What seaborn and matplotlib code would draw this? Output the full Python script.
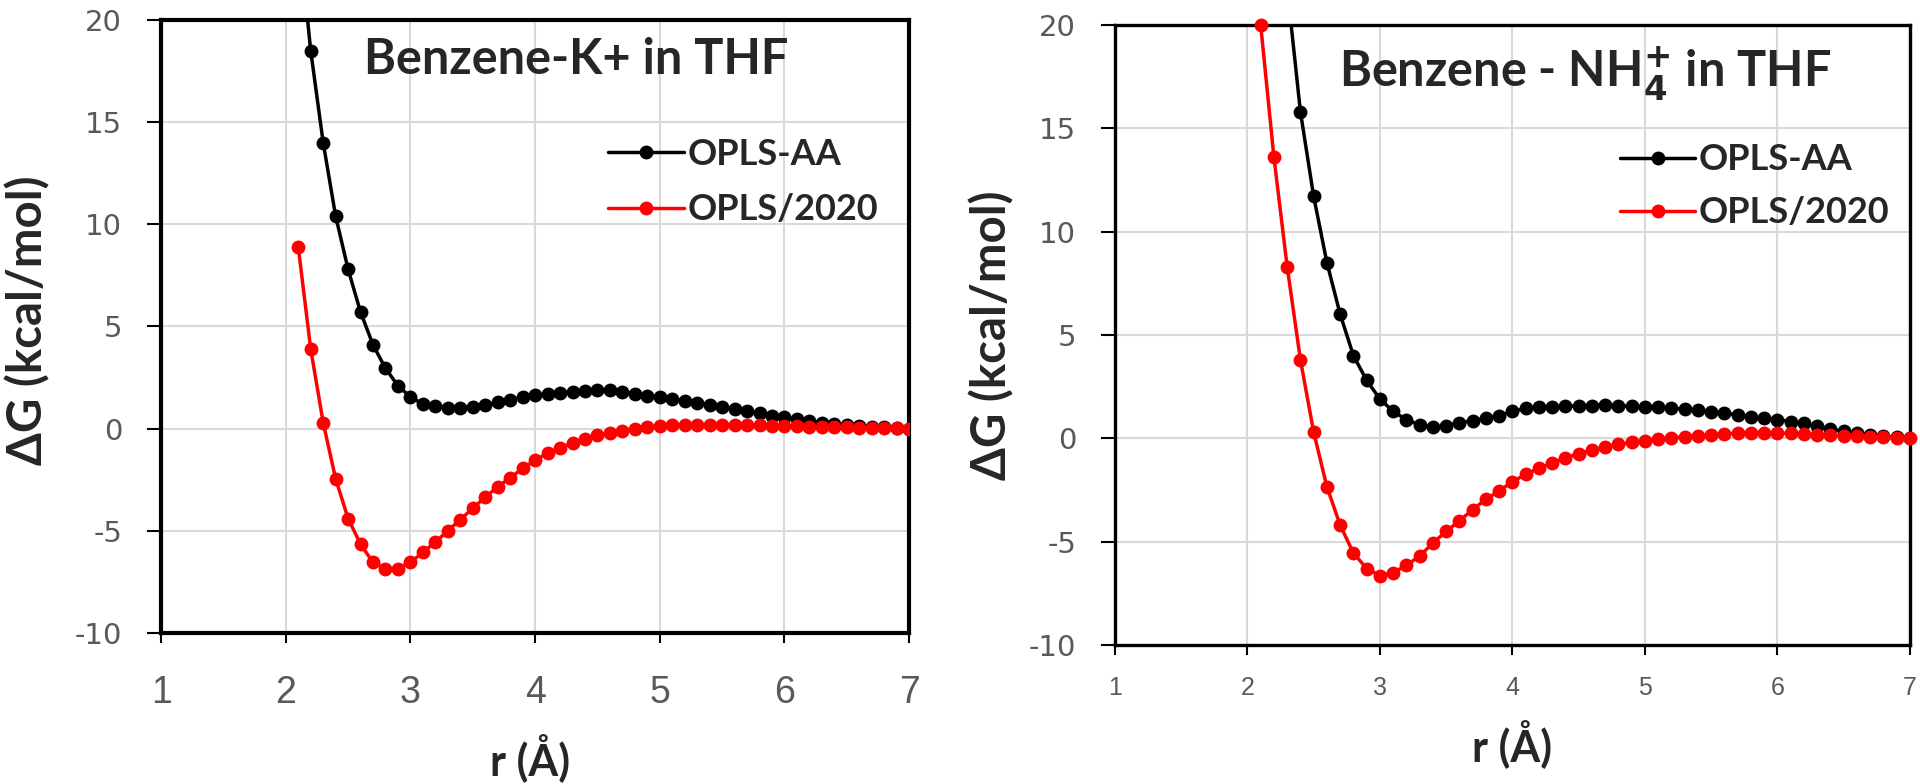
import matplotlib
matplotlib.use('Agg')
import matplotlib.pyplot as plt
import pandas as pd
import seaborn as sns

# ---- data ----
r_left = [2.1, 2.2, 2.3, 2.4, 2.5, 2.6, 2.7, 2.8, 2.9, 3.0,
          3.1, 3.2, 3.3, 3.4, 3.5, 3.6, 3.7, 3.8, 3.9, 4.0,
          4.1, 4.2, 4.3, 4.4, 4.5, 4.6, 4.7, 4.8, 4.9, 5.0,
          5.1, 5.2, 5.3, 5.4, 5.5, 5.6, 5.7, 5.8, 5.9, 6.0,
          6.1, 6.2, 6.3, 6.4, 6.5, 6.6, 6.7, 6.8, 6.9, 7.0]
k_oplsaa = [24.5, 18.5, 14.0, 10.4, 7.8, 5.7, 4.1, 2.95, 2.1, 1.55,
            1.2, 1.1, 1.03, 1.03, 1.06, 1.15, 1.28, 1.38, 1.55, 1.65,
            1.68, 1.75, 1.8, 1.85, 1.88, 1.87, 1.8, 1.7, 1.62, 1.55,
            1.45, 1.36, 1.27, 1.17, 1.07, 0.96, 0.86, 0.75, 0.64, 0.56,
            0.46, 0.36, 0.28, 0.22, 0.17, 0.13, 0.1, 0.06, 0.03, 0.0]
k_opls2020 = [8.9, 3.9, 0.3, -2.45, -4.4, -5.65, -6.55, -6.85, -6.85, -6.55,
              -6.05, -5.55, -5.0, -4.45, -3.9, -3.35, -2.85, -2.4, -1.95, -1.55,
              -1.2, -0.95, -0.7, -0.5, -0.33, -0.2, -0.1, 0.0, 0.07, 0.15,
              0.18, 0.2, 0.2, 0.2, 0.2, 0.19, 0.18, 0.17, 0.15, 0.14,
              0.12, 0.1, 0.09, 0.08, 0.06, 0.05, 0.04, 0.03, 0.02, 0.0]

r_nh4_aa = [2.3, 2.4, 2.5, 2.6, 2.7, 2.8, 2.9, 3.0,
            3.1, 3.2, 3.3, 3.4, 3.5, 3.6, 3.7, 3.8, 3.9, 4.0,
            4.1, 4.2, 4.3, 4.4, 4.5, 4.6, 4.7, 4.8, 4.9, 5.0,
            5.1, 5.2, 5.3, 5.4, 5.5, 5.6, 5.7, 5.8, 5.9, 6.0,
            6.1, 6.2, 6.3, 6.4, 6.5, 6.6, 6.7, 6.8, 6.9, 7.0]
nh4_oplsaa = [21.8, 15.8, 11.7, 8.5, 6.0, 4.0, 2.8, 1.9,
              1.3, 0.9, 0.65, 0.53, 0.6, 0.75, 0.85, 0.97, 1.1, 1.3,
              1.45, 1.52, 1.53, 1.54, 1.56, 1.58, 1.6, 1.58, 1.55, 1.52,
              1.5, 1.46, 1.41, 1.35, 1.29, 1.21, 1.13, 1.05, 0.97, 0.9,
              0.81, 0.72, 0.58, 0.45, 0.33, 0.24, 0.16, 0.09, 0.04, 0.0]
r_nh4_2020 = r_left
nh4_opls2020 = [20.0, 13.6, 8.3, 3.8, 0.3, -2.35, -4.2, -5.55, -6.3, -6.65,
                -6.5, -6.15, -5.7, -5.07, -4.5, -4.0, -3.45, -2.95, -2.55, -2.1,
                -1.75, -1.45, -1.2, -0.95, -0.75, -0.58, -0.43, -0.3, -0.2, -0.12,
                -0.05, 0.02, 0.08, 0.13, 0.18, 0.22, 0.25, 0.27, 0.27, 0.26,
                0.24, 0.21, 0.18, 0.15, 0.12, 0.09, 0.06, 0.04, 0.02, 0.0]

x_ticks = [1, 2, 3, 4, 5, 6, 7]
y_ticks = [-10, -5, 0, 5, 10, 15, 20]

sns.set_style('white')
plt.rcParams['font.family'] = ['Lato', 'DejaVu Sans']
plt.rcParams['axes.unicode_minus'] = False
grey = '#595959'

fig = plt.figure(figsize=(19.2, 7.84), dpi=100)
ax1 = fig.add_axes([0.0839, 0.1926, 0.3896, 0.782])
ax2 = fig.add_axes([0.5807, 0.1773, 0.414, 0.791])


def draw(ax, r_aa, g_aa, r_20, g_20, msize, lw):
    d_aa = pd.DataFrame({'r': r_aa, 'dG': g_aa})
    d_20 = pd.DataFrame({'r': r_20, 'dG': g_20})
    sns.lineplot(data=d_aa, x='r', y='dG', ax=ax, color='black', marker='o',
                 markersize=msize, markeredgewidth=0, linewidth=lw,
                 label='OPLS-AA', zorder=3)
    sns.lineplot(data=d_20, x='r', y='dG', ax=ax, color='red', marker='o',
                 markersize=msize, markeredgewidth=0, linewidth=lw,
                 label='OPLS/2020', zorder=3)


def style(ax, spine_w, xfs, yfs, xpad):
    ax.set_xlim(1, 7)
    ax.set_ylim(-10, 20)
    ax.set_xticks(x_ticks)
    ax.set_yticks(y_ticks)
    ax.grid(True, color='#d9d9d9', linewidth=1.5)
    ax.set_axisbelow(True)
    for s in ax.spines.values():
        s.set_linewidth(spine_w)
        s.set_color('black')
    ax.tick_params(axis='both', direction='out', width=1.5,
                   color='black', labelcolor=grey, left=True, bottom=True)
    ax.tick_params(axis='x', length=7, pad=xpad)
    ax.tick_params(axis='y', length=10, pad=18)
    for t in ax.get_xticklabels():
        t.set_fontfamily(['Liberation Sans', 'DejaVu Sans'])
        t.set_fontsize(xfs)
    for t in ax.get_yticklabels():
        t.set_fontfamily('DejaVu Sans')
        t.set_fontsize(yfs)


draw(ax1, r_left, k_oplsaa, r_left, k_opls2020, 10, 2.5)
draw(ax2, r_nh4_aa, nh4_oplsaa, r_nh4_2020, nh4_opls2020, 10, 2.5)
# the red point sitting on the top edge is drawn whole in the original
ax2.lines[1].set_clip_on(False)

style(ax1, 3.0, 27, 21, 23)
style(ax2, 2.4, 18, 21, 15)

ax1.set_xlabel('r (Å)', fontsize=31, fontweight='bold')
ax1.set_ylabel('ΔG (kcal/mol)', fontsize=34, fontweight='bold')
ax1.xaxis.set_label_coords(0.493, -0.163)
ax1.yaxis.set_label_coords(-0.148, 0.51)
ax2.set_xlabel('r (Å)', fontsize=31, fontweight='bold')
ax2.set_ylabel('ΔG (kcal/mol)', fontsize=34, fontweight='bold')
ax2.xaxis.set_label_coords(0.499, -0.119)
ax2.yaxis.set_label_coords(-0.126, 0.50)

ax1.text(0.555, 0.935, 'Benzene-K+ in THF', transform=ax1.transAxes,
         ha='center', va='center', fontsize=35, fontweight='bold')
ax2.text(0.592, 0.921, 'Benzene - NH$_\\mathbf{4}^\\mathbf{+}$ in THF',
         transform=ax2.transAxes, ha='center', va='center',
         fontsize=35, fontweight='bold')

ax1.legend(loc='upper left', bbox_to_anchor=(0.598, 0.808), frameon=False,
           handlelength=2.1, handletextpad=0.1,
           borderpad=0, borderaxespad=0, labelspacing=0.63,
           prop={'weight': 'bold', 'size': 26})
ax2.legend(loc='upper left', bbox_to_anchor=(0.636, 0.809), frameon=False,
           handlelength=2.05, handletextpad=0.1,
           borderpad=0, borderaxespad=0, labelspacing=0.55,
           prop={'weight': 'bold', 'size': 26})

fig.savefig('out.png', dpi=100)
